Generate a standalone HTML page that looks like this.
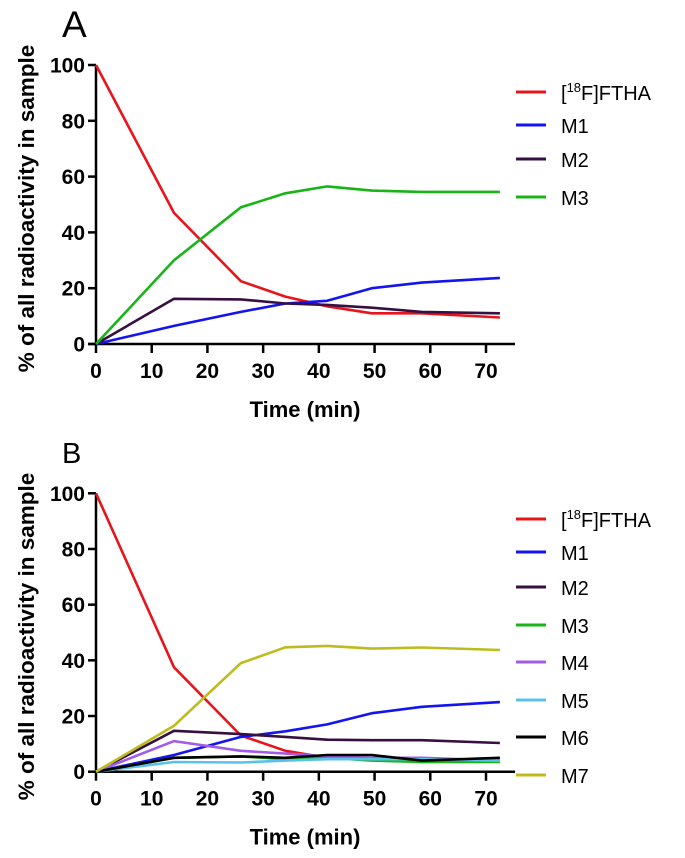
<!DOCTYPE html>
<html><head><meta charset="utf-8"><style>
body{margin:0;background:#fff;width:685px;height:853px;overflow:hidden}
svg text{font-family:"Liberation Sans",Arial,sans-serif}
</style></head><body>
<svg id="c" width="685" height="853" xmlns="http://www.w3.org/2000/svg"></svg>
<script>
const times = [0, 14, 26, 34, 41.5, 49.5, 58.5, 72.5];
const xTicks = [0, 10, 20, 30, 40, 50, 60, 70];
const yTicks = [0, 20, 40, 60, 80, 100];
const seriesNamesA = ["FTHA", "M1", "M2", "M3"];
const seriesNamesB = ["FTHA", "M1", "M2", "M3", "M4", "M5", "M6", "M7"];
const aFTHA = [100, 47, 22.5, 17, 13.5, 11, 11, 9.5];
const aM1 = [0, 6.5, 11.5, 14.5, 15.5, 20, 22, 23.7];
const aM2 = [0, 16.2, 16, 14.5, 14, 13, 11.5, 11];
const aM3 = [0, 30, 49, 54, 56.5, 55, 54.5, 54.5];
const bFTHA = [100, 37.5, 13, 7.5, 5, 4.5, 3.5, 4];
const bM1 = [0, 6, 12.5, 14.5, 17, 21, 23.3, 25];
const bM2 = [0, 14.7, 13.5, 12.5, 11.5, 11.3, 11.3, 10.3];
const bM3 = [0, 5, 5.5, 4.5, 5, 4, 3.5, 3.5];
const bM4 = [0, 11, 7.5, 6.5, 5.5, 5, 5, 4];
const bM5 = [0, 3.5, 3.3, 4, 4.5, 4.5, 4.5, 4];
const bM6 = [0, 5, 5.5, 5, 6, 6, 4, 5];
const bM7 = [0, 16.5, 39, 44.7, 45.2, 44.2, 44.6, 43.7];

const colors = {FTHA:"#e8141c",M1:"#1414f0",M2:"#361040",M3:"#18b418",M4:"#a05ce8",M5:"#5cc0ec",M6:"#000",M7:"#bcbc1c"};
const svg = document.getElementById('c');
const NS = "http://www.w3.org/2000/svg";
function mk(tag, attrs, parent){const e=document.createElementNS(NS,tag);for(const k in attrs)e.setAttribute(k,attrs[k]);(parent||svg).appendChild(e);return e;}

function panel(letter, y0px, y100px, names, data, legendY, letterY, letterSize){
  const g = mk('g',{});
  
  
  const x0=96, x70=486;
  const sx = v => x0 + (x70-x0)*v/70;
  const sy = v => y0px + (y100px-y0px)*v/100;
  const L = mk('text',{x:62,y:letterY,'font-size':letterSize},g); L.textContent=letter;
  
  
  const ya = mk('line',{x1:x0,y1:y100px,x2:x0,y2:y0px+1,stroke:'#000','stroke-width':2.5},g);
  
  
  const xa = mk('line',{x1:x0-8,y1:y0px,x2:515,y2:y0px,stroke:'#000','stroke-width':2.5},g);
  
  
  yTicks.forEach(t=>{
    mk('line',{x1:x0-8,y1:sy(t),x2:x0,y2:sy(t),stroke:'#000','stroke-width':2.5},g);
    const tx = mk('text',{x:x0-11,y:sy(t)+7.5,'font-size':21,'font-weight':'bold','text-anchor':'end'},g);
    tx.textContent=t;
    
    
  });
  xTicks.forEach(t=>{
    mk('line',{x1:sx(t),y1:y0px,x2:sx(t),y2:y0px+9,stroke:'#000','stroke-width':2.5},g);
    const tx = mk('text',{x:sx(t),y:y0px+34,'font-size':21,'font-weight':'bold','text-anchor':'middle'},g);
    tx.textContent=t;
    
    
  });
  const xt = mk('text',{x:305,y:y0px+73,'font-size':22,'font-weight':'bold','text-anchor':'middle'},g);
  xt.textContent='Time (min)';
  
  
  const cy=(y0px+y100px)/2+4;
  const yt = mk('text',{x:0,y:0,'font-size':22.5,'font-weight':'bold','text-anchor':'middle',transform:`translate(34,${cy}) rotate(-90)`},g);
  yt.textContent='% of all radioactivity in sample';
  
  
  names.forEach((n,i)=>{
    const pts = data[i].map((v,j)=>sx(times[j]).toFixed(1)+','+sy(v).toFixed(1)).join(' ');
    const pl = mk('polyline',{points:pts,fill:'none',stroke:colors[n],'stroke-width':2.6,'stroke-linejoin':'round'},g);
    
    
    const ly = legendY[i];
    const ll = mk('line',{x1:516,y1:ly,x2:546,y2:ly,stroke:colors[n],'stroke-width':3},g);
    
    
    const lt = mk('text',{x:561,y:ly+8,'font-size':20},g);
    if(n==='FTHA'){ lt.innerHTML='[<tspan dy="-8" font-size="13">18</tspan><tspan dy="8">F]FTHA</tspan>'; }
    else lt.textContent=n;
    
    
  });
}
panel('A',344,65,seriesNamesA,[aFTHA,aM1,aM2,aM3],[92,125,159,197],37,37);
panel('B',771.7,493.3,seriesNamesB,[bFTHA,bM1,bM2,bM3,bM4,bM5,bM6,bM7],[519,552,587,625,662,700,737,775],463,29);
</script>
</body></html>
